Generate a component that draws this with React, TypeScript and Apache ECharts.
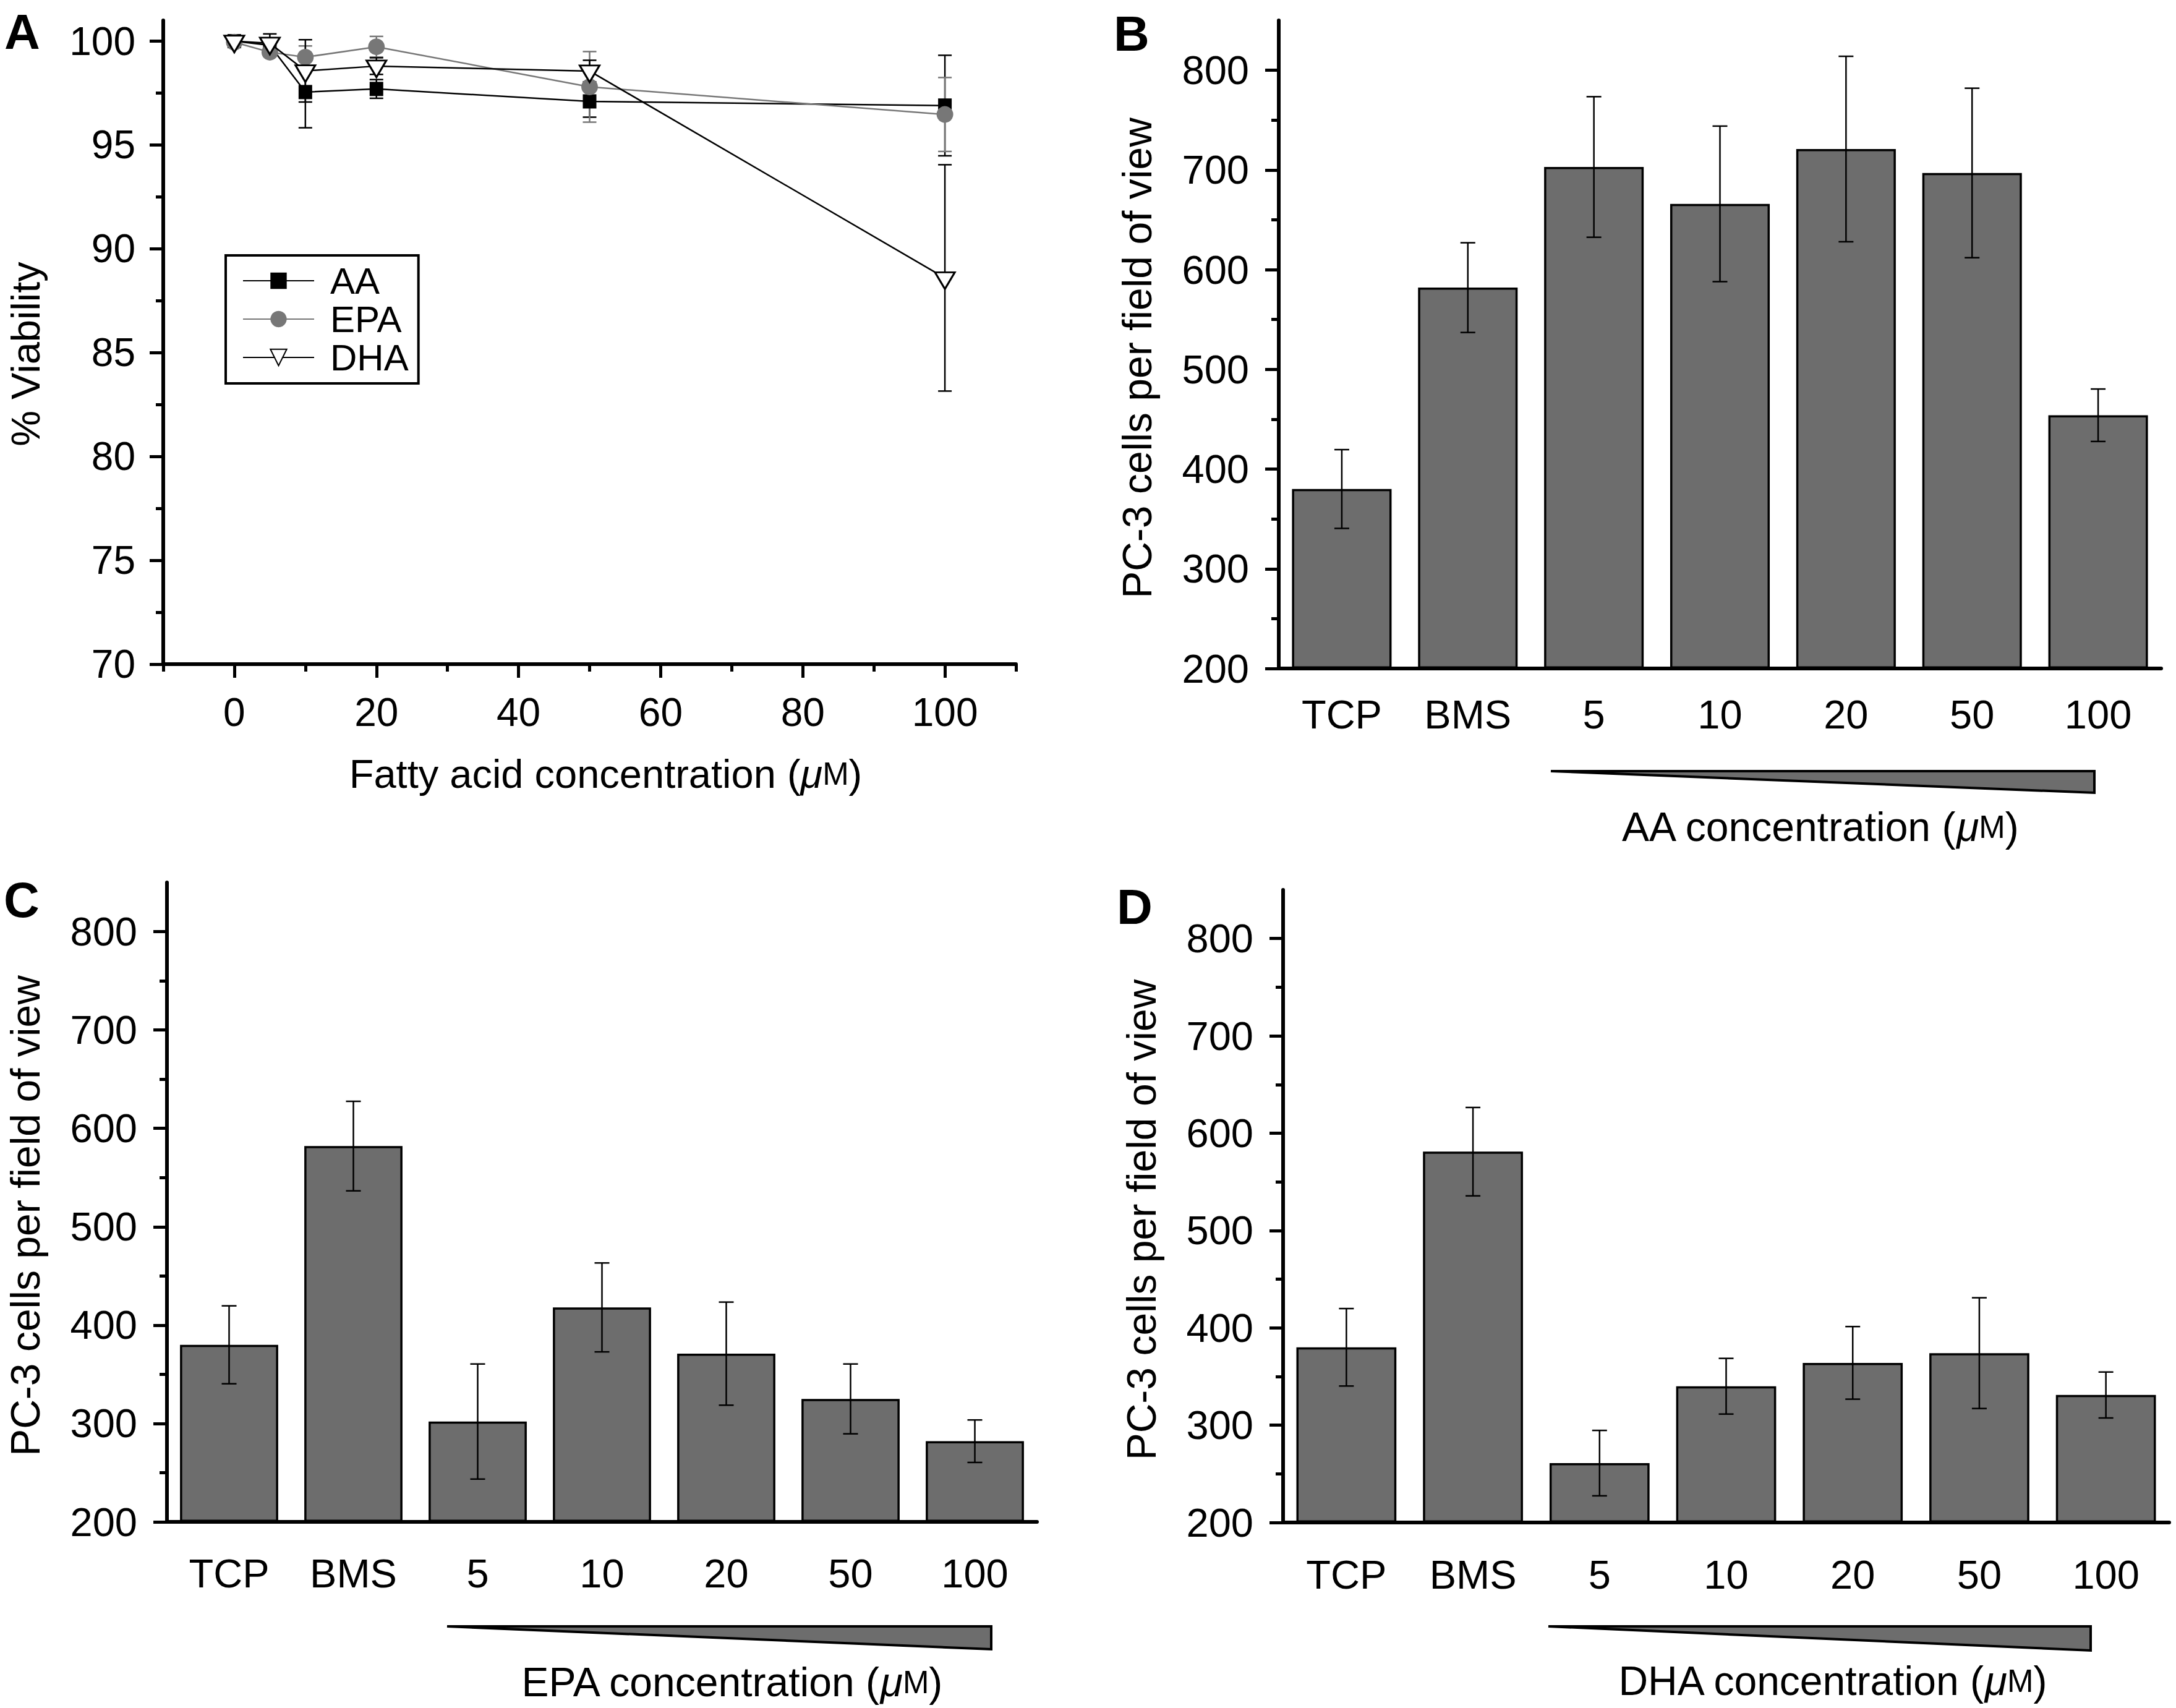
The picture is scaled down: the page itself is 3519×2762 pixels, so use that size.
import React, { useEffect, useRef } from "react";
import * as echarts from "echarts";

const FONT = "'Liberation Sans', Arial, Helvetica, sans-serif";

// ---------- Panel A: viability ----------
const concentrationsA = [0, 5, 10, 20, 50, 100];
const aaViability = [100, 99.8, 97.55, 97.7, 97.1, 96.9];
const aaViabilityErr = [0, 0.15, 1.72, 0.45, 0.76, 2.42];
const epaViability = [99.95, 99.47, 99.23, 99.73, 97.8, 96.47];
const epaViabilityErr = [0, 0.2, 0.54, 0.5, 1.7, 1.78];
const dhaViability = [100, 99.9, 98.57, 98.8, 98.56, 88.6];
const dhaViabilityErr = [0, 0.45, 1.5, 0.4, 0.52, 5.45];

const xTicksMajorA = [0, 20, 40, 60, 80, 100];
const xTicksMinorA = [-10, 10, 30, 50, 70, 90, 110];
const yTicksMajorA = [70, 75, 80, 85, 90, 95, 100];
const yTicksMinorA = [72.5, 77.5, 82.5, 87.5, 92.5, 97.5];

// ---------- Panels B-D: cell counts ----------
const barCategories = ["TCP", "BMS", "5", "10", "20", "50", "100"];
const aaCells = [380, 582, 703, 666, 721, 697, 454];
const aaCellsErr = [39.5, 45, 70.5, 78, 93, 85, 26.3];
const epaCells = [380, 582, 302, 418, 371, 325, 282];
const epaCellsErr = [39.6, 45.5, 58.5, 45.2, 52.4, 35.5, 21.6];
const dhaCells = [380, 581, 261, 340, 364, 374, 331];
const dhaCellsErr = [39.8, 45.4, 33.6, 28.6, 37.3, 56.9, 23.6];

const yTicksMajorBars = [200, 300, 400, 500, 600, 700, 800];
const yTicksMinorBars = [250, 350, 450, 550, 650, 750];

const BAR_COLOR = "#6d6d6d";
const GRAY = "#777777";

const muRich = (size: number) => ({
  a: { fontSize: size, fontFamily: FONT, color: "#000" },
  mu: { fontSize: size, fontFamily: FONT, fontStyle: "italic", color: "#000" },
  m: { fontSize: Math.round(size * 0.78), fontFamily: FONT, color: "#000" },
});
const muRichG = (size: number) => ({
  a: { fontSize: size, fontFamily: FONT, fill: "#000" },
  mu: { fontSize: size, fontFamily: FONT, fontStyle: "italic", fill: "#000" },
  m: { fontSize: Math.round(size * 0.78), fontFamily: FONT, fill: "#000" },
});

const tickLine = { color: "#000", width: 5 };

function errorBars(
  name: string,
  xi: number,
  yi: number,
  xs: number[],
  vals: number[],
  errs: number[],
  color: string,
  cap: number,
  z: number
) {
  const data: number[][] = [];
  vals.forEach((v, i) => {
    if (errs[i] > 0) data.push([xs[i], v - errs[i], v + errs[i]]);
  });
  return {
    type: "custom",
    name,
    xAxisIndex: xi,
    yAxisIndex: yi,
    z,
    silent: true,
    encode: { x: 0, y: [1, 2] },
    data,
    renderItem: (_params: any, api: any) => {
      const x = api.value(0);
      const lo = api.coord([x, api.value(1)]);
      const hi = api.coord([x, api.value(2)]);
      const style = { stroke: color, lineWidth: 2.5, fill: "none" };
      return {
        type: "group",
        children: [
          { type: "line", shape: { x1: hi[0], y1: hi[1], x2: lo[0], y2: lo[1] }, style },
          { type: "line", shape: { x1: hi[0] - cap, y1: hi[1], x2: hi[0] + cap, y2: hi[1] }, style },
          { type: "line", shape: { x1: lo[0] - cap, y1: lo[1], x2: lo[0] + cap, y2: lo[1] }, style },
        ],
      };
    },
  };
}

function barXAxes(grid: number, margin: number) {
  return [
    {
      type: "category",
      gridIndex: grid,
      position: "bottom",
      data: barCategories,
      axisLine: { onZero: false, lineStyle: { color: "#000", width: 6 } },
      axisTick: { alignWithLabel: true, interval: 0, length: 22, lineStyle: tickLine },
      axisLabel: { interval: 0, fontSize: 65, fontFamily: FONT, color: "#000", margin },
      splitLine: { show: false },
    },
    {
      type: "category",
      gridIndex: grid,
      position: "bottom",
      data: barCategories,
      axisLine: { show: false, onZero: false },
      axisTick: { alignWithLabel: false, interval: 0, length: 12, lineStyle: tickLine },
      axisLabel: { show: false, interval: 0 },
      splitLine: { show: false },
    },
  ];
}

function barYAxes(grid: number) {
  return [
    {
      type: "value",
      gridIndex: grid,
      position: "left",
      min: 200,
      max: 850,
      startValue: 200,
      axisLine: { show: true, onZero: false, lineStyle: { color: "#000", width: 6 } },
      axisTick: { show: true, customValues: yTicksMajorBars, length: 22, lineStyle: tickLine },
      axisLabel: { customValues: yTicksMajorBars, fontSize: 65, fontFamily: FONT, color: "#000", margin: 48 },
      splitLine: { show: false },
      name: "PC-3 cells per field of view",
      nameLocation: "middle",
      nameGap: 196,
      nameMoveOverlap: false,
      nameTextStyle: { fontSize: 66, fontFamily: FONT, color: "#000", padding: [0, 44, 0, 0] },
    },
    {
      type: "value",
      gridIndex: grid,
      position: "left",
      min: 200,
      max: 850,
      axisLine: { show: false, onZero: false },
      axisTick: { show: true, customValues: yTicksMinorBars, length: 12, lineStyle: tickLine },
      axisLabel: { show: false },
      splitLine: { show: false },
    },
  ];
}

function barSeries(grid: number, name: string, vals: number[], errs: number[]) {
  const xi = grid * 2;
  const yi = grid * 2;
  return [
    {
      type: "bar",
      name,
      xAxisIndex: xi,
      yAxisIndex: yi,
      data: vals,
      barWidth: "79%",
      itemStyle: { color: BAR_COLOR, borderColor: "#000", borderWidth: 3.5 },
      z: 2,
    },
    errorBars(name + " error", xi, yi, vals.map((_, i) => i), vals, errs, "#000", 12, 4),
  ];
}

export default function App() {
  const ref = useRef<HTMLDivElement>(null);

  useEffect(() => {
    document.body.style.margin = "0";
    if (!ref.current) return;
    const chart = echarts.init(ref.current, undefined, { renderer: "svg" });

    const option: any = {
      animation: false,
      backgroundColor: "#ffffff",
      textStyle: { fontFamily: FONT },
      grid: [
        { left: 264, top: 33, width: 1379, height: 1041, outerBoundsMode: "none" },
        { left: 2068, top: 33, width: 1427, height: 1048, outerBoundsMode: "none" },
        { left: 270, top: 1427, width: 1407, height: 1034, outerBoundsMode: "none" },
        { left: 2075, top: 1439, width: 1433, height: 1023, outerBoundsMode: "none" },
      ],
      xAxis: [
        {
          type: "value",
          gridIndex: 0,
          position: "bottom",
          min: -10,
          max: 110,
          interval: 10,
          axisLine: { onZero: false, lineStyle: { color: "#000", width: 6 } },
          axisTick: { customValues: xTicksMajorA, length: 22, lineStyle: tickLine },
          axisLabel: { customValues: xTicksMajorA, fontSize: 64, fontFamily: FONT, color: "#000", margin: 46 },
          splitLine: { show: false },
          name: "{a|Fatty acid concentration (}{mu|μ}{m|M}{a|)}",
          nameLocation: "middle",
          nameGap: 145,
          nameMoveOverlap: false,
          nameTextStyle: { fontSize: 65, fontFamily: FONT, color: "#000", padding: [0, 0, 0, 52], rich: muRich(65) },
        },
        {
          type: "value",
          gridIndex: 0,
          position: "bottom",
          min: -10,
          max: 110,
          interval: 10,
          axisLine: { show: false, onZero: false },
          axisTick: { customValues: xTicksMinorA, length: 12, lineStyle: tickLine },
          axisLabel: { show: false },
          splitLine: { show: false },
        },
        ...barXAxes(1, 42),
        ...barXAxes(2, 51),
        ...barXAxes(3, 52),
      ],
      yAxis: [
        {
          type: "value",
          gridIndex: 0,
          position: "left",
          min: 70,
          max: 101,
          axisLine: { show: true, onZero: false, lineStyle: { color: "#000", width: 6 } },
          axisTick: { show: true, customValues: yTicksMajorA, length: 22, lineStyle: tickLine },
          axisLabel: { customValues: yTicksMajorA, fontSize: 64, fontFamily: FONT, color: "#000", margin: 45 },
          splitLine: { show: false },
          name: "% Viability",
          nameLocation: "middle",
          nameGap: 190,
          nameMoveOverlap: false,
          nameTextStyle: { fontSize: 65, fontFamily: FONT, color: "#000", padding: [0, 38, 0, 0] },
        },
        {
          type: "value",
          gridIndex: 0,
          position: "left",
          min: 70,
          max: 101,
          axisLine: { show: false, onZero: false },
          axisTick: { show: true, customValues: yTicksMinorA, length: 12, lineStyle: tickLine },
          axisLabel: { show: false },
          splitLine: { show: false },
        },
        ...barYAxes(1),
        ...barYAxes(2),
        ...barYAxes(3),
      ],
      legend: {
        data: ["AA", "EPA", "DHA"],
        orient: "vertical",
        left: 365,
        top: 413,
        padding: [11, 16, 12, 27],
        itemWidth: 115,
        itemHeight: 33,
        itemGap: 2,
        borderColor: "#000",
        borderWidth: 4,
        borderRadius: 0,
        selectedMode: false,
        textStyle: { fontSize: 60, lineHeight: 60, fontFamily: FONT, color: "#000", padding: [0, 0, 0, 21] },
      },
      series: [
        errorBars("AA error", 0, 0, concentrationsA, aaViability, aaViabilityErr, "#000", 11, 1),
        errorBars("EPA error", 0, 0, concentrationsA, epaViability, epaViabilityErr, GRAY, 11, 1),
        errorBars("DHA error", 0, 0, concentrationsA, dhaViability, dhaViabilityErr, "#000", 11, 1),
        {
          type: "line",
          name: "AA",
          xAxisIndex: 0,
          yAxisIndex: 0,
          data: concentrationsA.map((c, i) => [c, aaViability[i]]),
          symbol: "rect",
          symbolSize: [22, 23],
          lineStyle: { color: "#000", width: 2.5 },
          itemStyle: { color: "#000" },
          z: 3,
        },
        {
          type: "line",
          name: "EPA",
          xAxisIndex: 0,
          yAxisIndex: 0,
          data: concentrationsA.map((c, i) => [c, epaViability[i]]),
          symbol: "circle",
          symbolSize: 27,
          lineStyle: { color: GRAY, width: 2.5 },
          itemStyle: { color: GRAY },
          z: 3,
        },
        {
          type: "line",
          name: "DHA",
          xAxisIndex: 0,
          yAxisIndex: 0,
          data: concentrationsA.map((c, i) => [c, dhaViability[i]]),
          symbol: "triangle",
          symbolRotate: 180,
          symbolSize: [32, 27],
          symbolOffset: [0, 4.5],
          lineStyle: { color: "#000", width: 2.5 },
          itemStyle: { color: "#ffffff", borderColor: "#000", borderWidth: 3 },
          z: 4,
        },
        ...barSeries(1, "AA cells", aaCells, aaCellsErr),
        ...barSeries(2, "EPA cells", epaCells, epaCellsErr),
        ...barSeries(3, "DHA cells", dhaCells, dhaCellsErr),
      ],
      graphic: [
        { type: "text", x: 7, y: 51, style: { text: "A", fontSize: 80, fontWeight: "bold", fontFamily: FONT, fill: "#000", align: "left", verticalAlign: "middle" } },
        { type: "text", x: 1801, y: 54, style: { text: "B", fontSize: 80, fontWeight: "bold", fontFamily: FONT, fill: "#000", align: "left", verticalAlign: "middle" } },
        { type: "text", x: 6, y: 1455, style: { text: "C", fontSize: 80, fontWeight: "bold", fontFamily: FONT, fill: "#000", align: "left", verticalAlign: "middle" } },
        { type: "text", x: 1806, y: 1466, style: { text: "D", fontSize: 80, fontWeight: "bold", fontFamily: FONT, fill: "#000", align: "left", verticalAlign: "middle" } },
        { type: "polygon", shape: { points: [[2508, 1247], [3387, 1247], [3387, 1282]] }, style: { fill: BAR_COLOR, stroke: "#000", lineWidth: 4, lineJoin: "miter" } },
        { type: "polygon", shape: { points: [[723, 2630], [1603, 2630], [1603, 2667]] }, style: { fill: BAR_COLOR, stroke: "#000", lineWidth: 4, lineJoin: "miter" } },
        { type: "polygon", shape: { points: [[2504, 2630], [3381, 2630], [3381, 2669]] }, style: { fill: BAR_COLOR, stroke: "#000", lineWidth: 4, lineJoin: "miter" } },
        { type: "text", x: 2943, y: 1337, style: { text: "{a|AA concentration (}{mu|μ}{m|M}{a|)}", rich: muRichG(66), fontSize: 66, fontFamily: FONT, fill: "#000", align: "center", verticalAlign: "middle" } },
        { type: "text", x: 1183, y: 2720, style: { text: "{a|EPA concentration (}{mu|μ}{m|M}{a|)}", rich: muRichG(66), fontSize: 66, fontFamily: FONT, fill: "#000", align: "center", verticalAlign: "middle" } },
        { type: "text", x: 2963, y: 2718, style: { text: "{a|DHA concentration (}{mu|μ}{m|M}{a|)}", rich: muRichG(66), fontSize: 66, fontFamily: FONT, fill: "#000", align: "center", verticalAlign: "middle" } },
      ],
    };

    chart.setOption(option);
    return () => {
      chart.dispose();
    };
  }, []);

  return (
    <div
      ref={ref}
      style={{ position: "absolute", left: 0, top: 0, width: 3519, height: 2762, background: "#fff" }}
    />
  );
}
